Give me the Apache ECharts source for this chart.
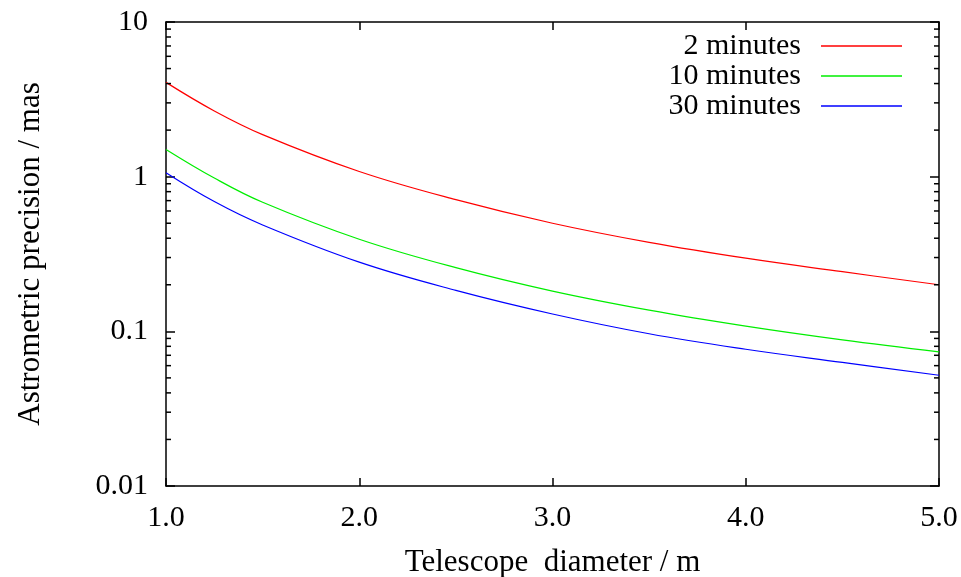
<!DOCTYPE html>
<html>
<head>
<meta charset="utf-8">
<script src="https://cdn.jsdelivr.net/npm/echarts@6/dist/echarts.min.js"></script>
<style>html,body{margin:0;padding:0;background:#fff}#c{width:961px;height:577px}</style>
</head>
<body>
<div id="c"></div>
<script>
// Telescope diameter / m
var diameters = [1.0, 1.25, 1.5, 2.0, 2.5, 3.0, 3.5, 4.0, 4.5, 5.0];
// Astrometric precision / mas
var prec2min  = [4.07, 2.66, 1.87, 1.08, 0.71, 0.50, 0.376, 0.297, 0.243, 0.200];
var prec10min = [1.50, 0.98, 0.683, 0.394, 0.258, 0.182, 0.137, 0.108, 0.088, 0.0736];
var prec30min = [1.06, 0.69, 0.487, 0.280, 0.184, 0.1295, 0.0965, 0.0766, 0.063, 0.052];
var seriesNames = ['2 minutes', '10 minutes', '30 minutes'];
var xTickLabels = ['1.0', '2.0', '3.0', '4.0', '5.0'];
var yTickLabels = ['0.01', '0.1', '1', '10'];
var minorTickValues = [0.02,0.03,0.04,0.05,0.06,0.07,0.08,0.09,
                       0.2,0.3,0.4,0.5,0.6,0.7,0.8,0.9,
                       2,3,4,5,6,7,8,9];

function pairs(xs, ys){ return xs.map(function(x,i){ return [x, ys[i]]; }); }

var FONT = 'Liberation Serif';
var chart = echarts.init(document.getElementById('c'), null, {renderer:'canvas'});

function legendFor(name, top){
  return {
    data: [name], right: 59, top: top, orient: 'vertical', align: 'right',
    padding: 0, itemWidth: 81, itemHeight: 1.5, icon: 'rect', selectedMode: false,
    textStyle: {fontFamily: FONT, fontSize: 30, color: '#000', padding: [0, 15, 0, 0]}
  };
}

var axisLine = {show: true, onZero: false, lineStyle: {color: '#000', width: 1.5}};

var option = {
  animation: false,
  backgroundColor: '#fff',
  grid: {left: 166, right: 22, top: 22, bottom: 91, containLabel: false, outerBoundsMode: 'none'},
  legend: [legendFor(seriesNames[0], 31), legendFor(seriesNames[1], 61), legendFor(seriesNames[2], 91)],
  xAxis: [{
    type: 'value', min: 1, max: 5, interval: 1, position: 'bottom',
    name: 'Telescope  diameter / m', nameLocation: 'middle', nameGap: 61,
    nameTextStyle: {fontFamily: FONT, fontSize: 31, color: '#000'},
    axisLine: axisLine,
    axisTick: {show: true, inside: true, length: 8, lineStyle: {color: '#000', width: 1.5}},
    axisLabel: {fontFamily: FONT, fontSize: 30, color: '#000', margin: 17,
      formatter: function(v){ var i = Math.round(v) - 1; return xTickLabels[i] !== undefined ? xTickLabels[i] : ''; }},
    splitLine: {show: false}
  },{
    type: 'value', min: 1, max: 5, interval: 1, position: 'top',
    axisLine: axisLine,
    axisTick: {show: true, inside: true, length: 8, lineStyle: {color: '#000', width: 1.5}},
    axisLabel: {show: false}, splitLine: {show: false}
  }],
  yAxis: [{
    type: 'log', logBase: 10, min: 0.01, max: 10, position: 'left',
    name: 'Astrometric precision / mas', nameLocation: 'middle', nameGap: 120, nameRotate: 90,
    nameTextStyle: {fontFamily: FONT, fontSize: 31, color: '#000'},
    axisLine: axisLine,
    axisTick: {show: true, inside: true, length: 9, lineStyle: {color: '#000', width: 1.5}},
    axisLabel: {fontFamily: FONT, fontSize: 30, color: '#000', margin: 18,
      formatter: function(v){ var e = Math.round(Math.log10(v)) + 2; return yTickLabels[e] !== undefined ? yTickLabels[e] : ''; }},
    splitLine: {show: false}
  },{
    type: 'log', logBase: 10, min: 0.01, max: 10, position: 'right',
    axisLine: axisLine,
    axisTick: {show: true, inside: true, length: 9, lineStyle: {color: '#000', width: 1.5}},
    axisLabel: {show: false}, splitLine: {show: false}
  }],
  series: [
    {name: seriesNames[0], type: 'line', data: pairs(diameters, prec2min), smooth: 0.4,
     showSymbol: false, color: '#ff0000', lineStyle: {width: 1.2, color: '#ff0000'}, z: 3},
    {name: seriesNames[1], type: 'line', data: pairs(diameters, prec10min), smooth: 0.4,
     showSymbol: false, color: '#00ee00', lineStyle: {width: 1.2, color: '#00ee00'}, z: 3},
    {name: seriesNames[2], type: 'line', data: pairs(diameters, prec30min), smooth: 0.4,
     showSymbol: false, color: '#0000ff', lineStyle: {width: 1.2, color: '#0000ff'}, z: 3},
    {type: 'custom', silent: true, clip: false, z: 10,
     data: minorTickValues.map(function(v){ return [1, v]; }),
     renderItem: function(params, api){
       var v = api.value(1);
       var l = api.coord([1, v]);
       var r = api.coord([5, v]);
       return {type: 'group', children: [
         {type: 'line', shape: {x1: l[0], y1: l[1], x2: l[0] + 5, y2: l[1]}, style: {stroke: '#000', lineWidth: 1.5}},
         {type: 'line', shape: {x1: r[0], y1: r[1], x2: r[0] - 5, y2: r[1]}, style: {stroke: '#000', lineWidth: 1.5}}
       ]};
     }}
  ]
};
chart.setOption(option);
</script>
</body>
</html>
